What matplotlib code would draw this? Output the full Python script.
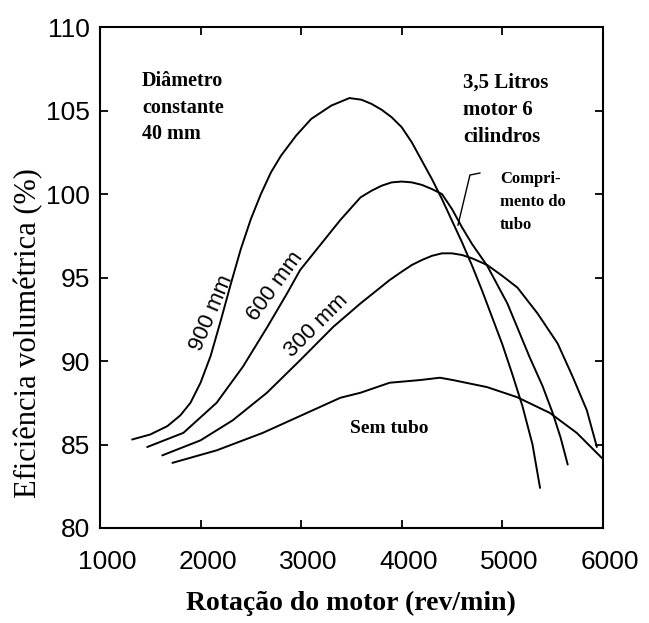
import matplotlib as mpl

mpl.use("Agg")
import matplotlib.pyplot as plt
from matplotlib.transforms import ScaledTranslation

# curves: (rpm, efficiency %)
rpm_900 = [1320, 1500, 1670, 1800, 1900, 2000, 2100, 2200, 2300, 2400, 2500, 2600,
           2700, 2800, 2950, 3100, 3300, 3480, 3600, 3700, 3800, 3900, 4000, 4100,
           4200, 4300, 4400, 4500, 4600, 4700, 4800, 4900, 5000, 5100, 5200, 5300, 5375]
eff_900 = [85.3, 85.6, 86.1, 86.75, 87.5, 88.7, 90.3, 92.4, 94.6, 96.7, 98.5, 100.0,
           101.3, 102.3, 103.5, 104.5, 105.3, 105.75, 105.65, 105.4, 105.05, 104.6, 104.0, 103.1,
           102.0, 100.9, 99.7, 98.4, 97.1, 95.7, 94.2, 92.6, 91.0, 89.2, 87.3, 85.0, 82.4]

rpm_600 = [1470, 1830, 2160, 2420, 2660, 2860, 2990, 3190, 3390, 3590, 3700, 3800,
           3900, 4000, 4100, 4200, 4300, 4400, 4500, 4600, 4700, 4850, 5050, 5270,
           5400, 5500, 5580, 5650]
eff_600 = [84.85, 85.7, 87.5, 89.65, 92.0, 94.05, 95.45, 96.95, 98.45, 99.8, 100.2, 100.5,
           100.7, 100.75, 100.7, 100.55, 100.3, 100.0, 99.1, 98.0, 97.0, 95.7, 93.45, 90.25,
           88.5, 86.9, 85.4, 83.8]

rpm_300 = [1620, 2000, 2320, 2660, 2990, 3320, 3590, 3880, 4000, 4100, 4200, 4300,
           4400, 4500, 4600, 4700, 4850, 5000, 5150, 5350, 5550, 5700, 5840, 5940]
eff_300 = [84.35, 85.25, 86.45, 88.1, 90.05, 92.05, 93.45, 94.85, 95.35, 95.75, 96.05, 96.3,
           96.45, 96.45, 96.35, 96.15, 95.75, 95.1, 94.4, 92.85, 91.05, 89.05, 87.05, 84.85]

rpm_sem = [1720, 2160, 2620, 3060, 3390, 3590, 3880, 4181, 4380, 4509, 4847, 5145,
           5473, 5741, 5990]
eff_sem = [83.9, 84.65, 85.7, 86.9, 87.8, 88.1, 88.7, 88.86, 89.0, 88.86, 88.44, 87.84,
           86.89, 85.69, 84.19]

x_ticks = [1000, 2000, 3000, 4000, 5000, 6000]
y_ticks = [80, 85, 90, 95, 100, 105, 110]

SERIF = "Liberation Serif"
SANS = "Liberation Sans"

fig = plt.figure(figsize=(6.49, 6.23), dpi=100)
ax = fig.add_axes([0.154, 0.1525, 0.775, 0.804])

for xs, ys in [(rpm_900, eff_900), (rpm_600, eff_600), (rpm_300, eff_300), (rpm_sem, eff_sem)]:
    ax.plot(xs, ys, color="black", lw=1.4, solid_capstyle="round", solid_joinstyle="round")

ax.set_xlim(1000, 6000)
ax.set_ylim(80, 110)
ax.set_xticks(x_ticks)
ax.set_yticks(y_ticks)
ax.tick_params(direction="in", length=6, width=1.3, top=True, right=True,
               labelsize=19, color="black")
ax.tick_params(axis="x", pad=16)
ax.tick_params(axis="y", pad=7)
# the scanned x labels sit a little right of their ticks
shift = ScaledTranslation(7 / 100, 0, fig.dpi_scale_trans)
for lab in ax.get_xticklabels():
    lab.set_fontfamily(SANS)
    lab.set_transform(lab.get_transform() + shift)
for lab in ax.get_yticklabels():
    lab.set_fontfamily(SANS)
for s in ax.spines.values():
    s.set_linewidth(1.5)

ax.set_xlabel("Rotação do motor (rev/min)", fontfamily=SERIF, fontweight="bold",
              fontsize=20, labelpad=12)
ax.set_ylabel("Eficiência volumétrica (%)", fontfamily=SERIF, fontsize=22)
ax.yaxis.set_label_coords(-0.113, 0.389)

ax.text(1417, 107.35, "Diâmetro\nconstante\n40 mm", fontfamily=SERIF, fontweight="bold",
        fontsize=14.5, va="top", ha="left", linespacing=1.42)
ax.text(4608, 107.3, "3,5 Litros\nmotor 6\ncilindros", fontfamily=SERIF, fontweight="bold",
        fontsize=15, va="top", ha="left", linespacing=1.5)
ax.text(4976, 101.4, "Compri-\nmento do\ntubo", fontfamily=SERIF, fontweight="bold",
        fontsize=12, va="top", ha="left", linespacing=1.6)
ax.plot([4777, 4678, 4559], [101.26, 101.14, 98.14], color="black", lw=1.0)
ax.text(3485, 85.96, "Sem tubo", fontfamily=SERIF, fontweight="bold",
        fontsize=14, va="center", ha="left")

ax.text(2113, 92.87, "900 mm", fontfamily=SANS, fontsize=16, rotation=67,
        ha="center", va="center")
ax.text(2740, 94.5, "600 mm", fontfamily=SANS, fontsize=16, rotation=54,
        ha="center", va="center")
ax.text(3157, 92.1, "300 mm", fontfamily=SANS, fontsize=16, rotation=45,
        ha="center", va="center")

fig.savefig("out.png", dpi=100)
